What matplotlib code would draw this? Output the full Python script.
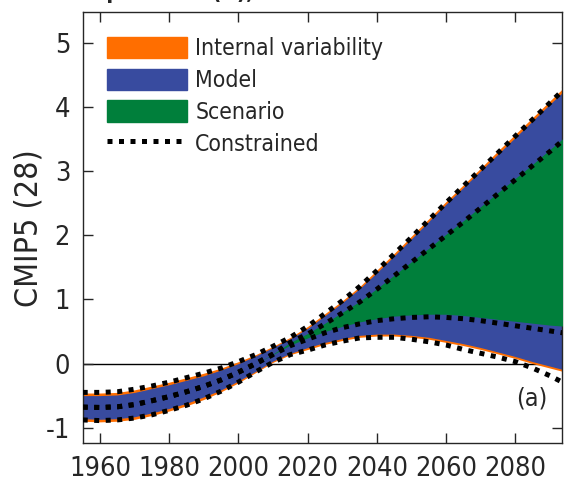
import matplotlib
matplotlib.use('Agg')
import matplotlib.pyplot as plt
from matplotlib.patches import Patch
from matplotlib.lines import Line2D

plt.rcParams['font.family'] = ['DejaVu Sans']
plt.rcParams['font.stretch'] = 'condensed'
plt.rcParams['axes.unicode_minus'] = False

years = [1955, 1960, 1965, 1970, 1975, 1980, 1985, 1990, 1995, 2000, 2005, 2010, 2015,
         2020, 2025, 2030, 2035, 2040, 2045, 2050, 2055, 2060, 2065, 2070, 2075, 2080,
         2085, 2090, 2095]

# outer bounds (internal variability)
top_o = [-0.46, -0.46, -0.45, -0.41, -0.35, -0.29, -0.22, -0.15, -0.07, 0.03, 0.14, 0.27, 0.41,
         0.58, 0.78, 0.98, 1.20, 1.46, 1.72, 1.99, 2.26, 2.53, 2.79, 3.05, 3.32, 3.58,
         3.84, 4.10, 4.36]
bot_o = [-0.90, -0.91, -0.90, -0.87, -0.81, -0.74, -0.66, -0.56, -0.44, -0.30, -0.14, 0.02, 0.14,
         0.22, 0.30, 0.36, 0.41, 0.43, 0.43, 0.41, 0.38, 0.33, 0.28, 0.22, 0.15, 0.08,
         0.00, -0.07, -0.14]
# model uncertainty
top_b = [-0.50, -0.50, -0.49, -0.45, -0.39, -0.33, -0.26, -0.19, -0.10, 0.00, 0.12, 0.25, 0.39,
         0.55, 0.75, 0.95, 1.17, 1.42, 1.68, 1.95, 2.22, 2.49, 2.75, 3.01, 3.27, 3.53,
         3.79, 4.05, 4.30]
bot_b = [-0.86, -0.87, -0.86, -0.83, -0.77, -0.70, -0.62, -0.52, -0.41, -0.27, -0.12, 0.04, 0.16,
         0.25, 0.33, 0.39, 0.44, 0.46, 0.46, 0.44, 0.41, 0.36, 0.31, 0.25, 0.18, 0.11,
         0.03, -0.04, -0.11]
# scenario uncertainty
top_g = [-0.68, -0.685, -0.675, -0.64, -0.58, -0.515, -0.44, -0.355, -0.255, -0.135, 0.00, 0.15, 0.33,
         0.47, 0.63, 0.80, 0.97, 1.17, 1.38, 1.59, 1.80, 2.02, 2.23, 2.45, 2.67, 2.89,
         3.11, 3.34, 3.57]
bot_g = [-0.68, -0.685, -0.675, -0.64, -0.58, -0.515, -0.44, -0.355, -0.255, -0.135, 0.00, 0.14, 0.29,
         0.40, 0.50, 0.58, 0.65, 0.70, 0.74, 0.76, 0.77, 0.77, 0.75, 0.72, 0.69, 0.66,
         0.63, 0.60, 0.58]
# constrained bounds
con_top = [-0.45, -0.45, -0.44, -0.40, -0.35, -0.29, -0.22, -0.15, -0.07, 0.03, 0.14, 0.27, 0.41,
           0.58, 0.78, 0.98, 1.20, 1.45, 1.71, 1.97, 2.24, 2.51, 2.77, 3.03, 3.29, 3.55,
           3.81, 4.07, 4.33]
con_gtop = [-0.68, -0.685, -0.675, -0.64, -0.58, -0.515, -0.44, -0.355, -0.255, -0.135, 0.00, 0.15, 0.33,
            0.46, 0.62, 0.79, 0.96, 1.16, 1.37, 1.58, 1.79, 2.00, 2.21, 2.43, 2.65, 2.87,
            3.09, 3.31, 3.54]
con_gbot = [-0.68, -0.685, -0.675, -0.64, -0.58, -0.515, -0.44, -0.355, -0.255, -0.135, 0.00, 0.14, 0.28,
            0.38, 0.48, 0.56, 0.62, 0.67, 0.70, 0.72, 0.73, 0.72, 0.70, 0.67, 0.63, 0.59,
            0.55, 0.51, 0.47]
con_bot = [-0.88, -0.89, -0.88, -0.85, -0.80, -0.73, -0.65, -0.55, -0.43, -0.29, -0.13, 0.02, 0.14,
           0.21, 0.29, 0.35, 0.40, 0.41, 0.41, 0.38, 0.34, 0.29, 0.22, 0.16, 0.10, 0.03,
           -0.07, -0.19, -0.33]

labels = ['Internal variability', 'Model', 'Scenario', 'Constrained']
c_int = '#FF6E00'
c_mod = '#384B9F'
c_scen = '#007F3B'
ink = '#262626'
dots = (0, (1, 1.3))

fig = plt.figure(figsize=(5.65, 4.82), dpi=100)
ax = fig.add_axes([0.1464, 0.0809, 0.8483, 0.8932])

ax.axhline(0, color='k', lw=1.0, zorder=0)
ax.fill_between(years, bot_o, top_o, color=c_int, lw=0, zorder=1)
ax.fill_between(years, bot_b, top_b, color=c_mod, lw=0, zorder=2)
ax.fill_between(years, bot_g, top_g, color=c_scen, lw=0, zorder=3)
for con in (con_top, con_gtop, con_gbot, con_bot):
    ax.plot(years, con, ls=dots, color='k', lw=3.6, zorder=4)

ax.set_xlim(1955, 2093.5)
ax.set_ylim(-1.24, 5.48)
ax.set_xticks(range(1960, 2081, 20))
ax.set_yticks(range(-1, 6))
ax.tick_params(direction='in', top=True, right=True, length=7, width=1,
               labelsize=19.5, colors=ink)
ax.tick_params(axis='x', pad=9.5)
ax.tick_params(axis='y', pad=9)
for sp in ax.spines.values():
    sp.set_color(ink)
    sp.set_linewidth(1.0)
ax.set_ylabel('CMIP5 (28)', fontsize=23, color=ink)
ax.yaxis.set_label_coords(-0.08, 0.5)

handles = [Patch(color=c_int), Patch(color=c_mod), Patch(color=c_scen),
           Line2D([], [], ls=dots, color='k', lw=3.6)]
ax.legend(handles, labels, loc='upper left', bbox_to_anchor=(0.0507, 0.943),
          frameon=False, fontsize=16.5, handlelength=3.5, handleheight=1.05,
          handletextpad=0.35, labelspacing=0.36, borderpad=0, borderaxespad=0,
          labelcolor=ink)

ax.text(0.9374, 0.1045, '(a)', transform=ax.transAxes, ha='center', va='center',
        fontsize=18, color=ink)

fig.text(61 / 565, 1 + 1 / 482, 'Temperature (K), Global', fontsize=16,
         fontweight='bold', va='baseline', color=ink)

fig.savefig('out.png', dpi=100)
